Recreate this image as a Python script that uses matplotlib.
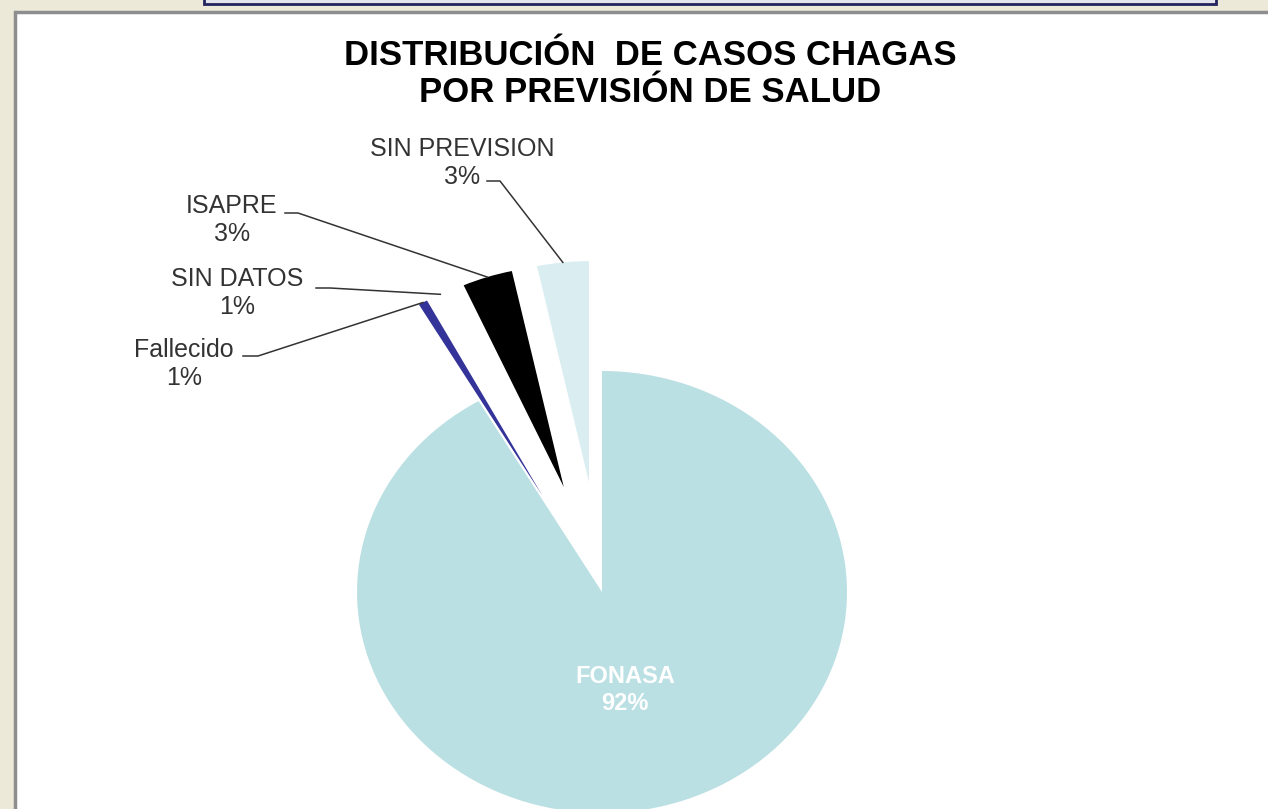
import numpy as np
import matplotlib.pyplot as plt
from matplotlib.patches import Rectangle

# Data
categories = ['FONASA', 'Fallecido', 'SIN DATOS', 'ISAPRE', 'SIN PREVISION']
percent = [91.6, 0.6, 1.1, 3.3, 3.4]
colors = ['#BBE0E3', '#333399', '#FFFFFF', '#000000', '#DAEEF1']
explode = [0, 0.5, 0.5, 0.5, 0.5]

# Layout (pixels of the 1268x809 picture)
W, H = 1268, 809
CX, CY = 602, 592   # pie centre
RX, RY = 245, 221   # pie is stretched horizontally

def px(x, y):
    return (x - CX) / RX, (CY - y) / RY

# label block centre, leader stub start and stub end
label_layout = {
    'SIN PREVISION': ((462, 163), (487, 181), (500, 181)),
    'ISAPRE': ((232, 220), (285, 213), (298, 213)),
    'SIN DATOS': ((237, 293), (316, 288), (330, 288)),
    'Fallecido': ((184, 364), (243, 356), (258, 356)),
}

plt.rcParams['font.family'] = ['Liberation Sans', 'DejaVu Sans']

fig = plt.figure(figsize=(W / 100, H / 100), dpi=100)
fig.patch.set_facecolor('#ECE9D8')

# slide frame
fig.add_artist(Rectangle((15 / W, -0.02), 1.0, 1.02 - 12 / H, transform=fig.transFigure,
                         facecolor='white', edgecolor='#8E8E8E', lw=2.5, zorder=-2))
fig.add_artist(Rectangle((204 / W, 1 - 4 / H), (1216 - 204) / W, 0.02, transform=fig.transFigure,
                         facecolor='#E4E4EE', edgecolor='#23235E', lw=2, zorder=-2))

ax = fig.add_axes([0, 0, 1, 1])
ax.set_facecolor('none')
wedges, _ = ax.pie(percent, colors=colors, explode=explode, startangle=90,
                   counterclock=False, wedgeprops=dict(linewidth=0))
ax.set_aspect('auto')
ax.set_xlim(-CX / RX, (W - CX) / RX)
ax.set_ylim(-(H - CY) / RY, CY / RY)
ax.axis('off')


def outer_mid(w):
    t = np.deg2rad((w.theta1 + w.theta2) / 2)
    return w.center[0] + w.r * np.cos(t), w.center[1] + w.r * np.sin(t)


for name, p, w in zip(categories, percent, wedges):
    text = f'{name}\n{p:.0f}%'
    if name == 'FONASA':
        ax.text(*px(625, 690), text, color='white', fontsize=17, weight='bold',
                ha='center', va='center', linespacing=1.2)
        continue
    pos, s0, s1 = label_layout[name]
    ax.text(*px(*pos), text, color='#333333', fontsize=18, ha='center', va='center',
            linespacing=1.22)
    tx, ty = outer_mid(w)
    a, b = px(*s0), px(*s1)
    ax.plot([a[0], b[0], tx], [a[1], b[1], ty], color='#333333', lw=1.1)

fig.text(650 / W, 1 - 74 / H, 'DISTRIBUCIÓN  DE CASOS CHAGAS\nPOR PREVISIÓN DE SALUD',
         ha='center', va='center', fontsize=25, weight='bold', linespacing=1.18)

fig.savefig('out.png', dpi=100, facecolor=fig.get_facecolor())
